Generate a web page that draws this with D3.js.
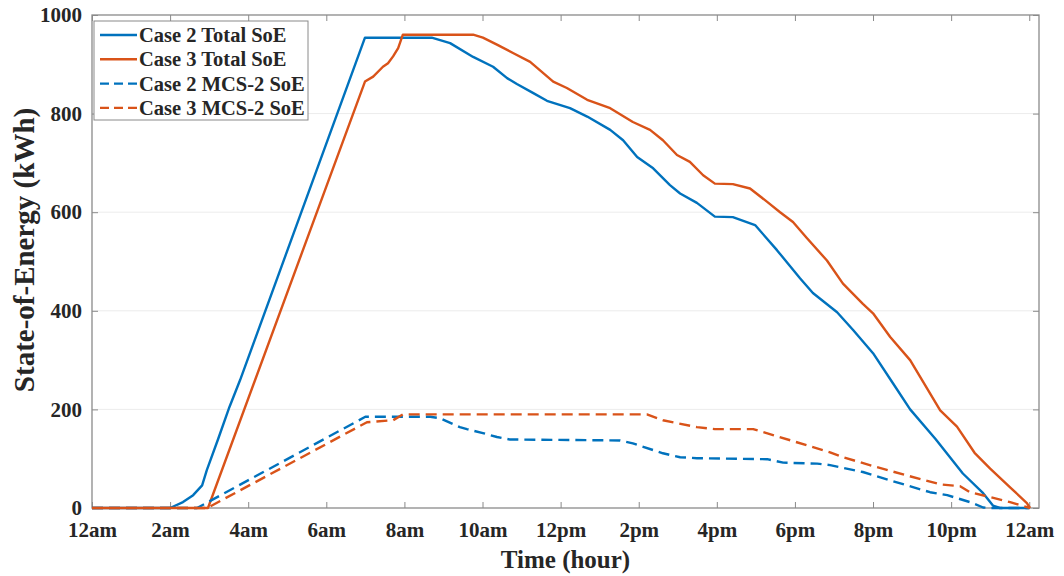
<!DOCTYPE html>
<html>
<head>
<meta charset="utf-8">
<script src="https://cdn.jsdelivr.net/npm/d3@7"></script>
<style>
  body { margin: 0; background: #fff; }
  svg text { font-family: "Liberation Serif", "Times New Roman", serif; font-weight: bold; fill: #262626; }
</style>
</head>
<body>
<div id="container"></div>
<script>
/* DATA (hours since midnight, kWh) */
const tickHours = [0, 2, 4, 6, 8, 10, 12, 14, 16, 18, 20, 22, 24];
const tickLabels = ["12am", "2am", "4am", "6am", "8am", "10am", "12pm", "2pm", "4pm", "6pm", "8pm", "10pm", "12am"];
const yTicks = [0, 200, 400, 600, 800, 1000];

const case2TotalHours = [0, 2.0, 2.33, 2.59, 2.82, 2.94, 3.23, 3.52, 3.79, 6.99, 8.7, 9.17, 9.76, 10.27, 10.63, 10.88, 11.29, 11.65, 12.24, 12.68, 13.27, 13.6, 13.96, 14.37, 14.8, 15.06, 15.49, 15.95, 16.41, 16.98, 17.54, 18.13, 18.46, 19.08, 19.49, 20.0, 20.51, 20.95, 21.6, 22.3, 22.82, 23.07, 23.25, 24.0];
const case2TotalSoE = [0, 0, 12, 26, 46, 77, 140, 205, 259, 954, 954, 943, 915, 895, 872, 860, 842, 826, 811, 794, 767, 746, 712, 689, 655, 638, 619, 591, 590, 574, 523, 466, 436, 397, 361, 314, 253, 200, 140, 70, 30, 5, 0, 0];

const case3TotalHours = [0, 2.97, 6.99, 7.2, 7.45, 7.58, 7.71, 7.84, 7.96, 9.76, 10.01, 10.37, 10.78, 11.22, 11.81, 12.16, 12.68, 13.27, 13.85, 14.29, 14.62, 14.98, 15.31, 15.65, 15.95, 16.41, 16.85, 17.29, 17.62, 17.95, 18.31, 18.82, 19.23, 19.74, 20.0, 20.44, 20.95, 21.72, 22.15, 22.6, 23.0, 23.51, 23.94, 24.02];
const case3TotalSoE = [0, 0, 865, 875, 895, 902, 916, 933, 960, 960, 954, 940, 923, 905, 865, 852, 828, 811, 783, 767, 746, 716, 702, 675, 658, 657, 648, 621, 600, 580, 547, 502, 455, 414, 395, 347, 300, 198, 165, 112, 80, 42, 10, 0];

const case2McsHours = [0, 2.69, 2.97, 7.0, 8.66, 8.91, 9.42, 9.6, 10.01, 10.37, 10.7, 13.52, 13.85, 14.62, 15.06, 15.49, 17.29, 17.7, 18.57, 18.9, 19.74, 20.61, 21.46, 21.9, 22.48, 22.82, 23.0, 24.0];
const case2McsSoE = [0, 0, 12, 185, 185, 182, 164, 160, 152, 144, 139, 137, 131, 111, 103, 101, 99, 92, 90, 87, 73, 52, 32, 26, 12, 1, 0, 0];

const case3McsHours = [0, 2.95, 7.04, 7.71, 7.96, 14.21, 14.62, 15.49, 15.95, 16.93, 17.44, 18.31, 18.9, 19.23, 20.0, 20.87, 21.72, 22.23, 22.48, 23.0, 23.51, 24.02];
const case3McsSoE = [0, 0, 174, 178, 190, 190, 178, 164, 160, 160, 148, 127, 113, 103, 85, 66, 48, 44, 32, 22, 12, 0];

const seriesNames = ["Case 2 Total SoE", "Case 3 Total SoE", "Case 2 MCS-2 SoE", "Case 3 MCS-2 SoE"];
const seriesColors = ["#0072BD", "#D95319", "#0072BD", "#D95319"];
const seriesDashed = [false, false, true, true];

/* CONSTANTS */
const width = 1064, height = 576;
const margin = { top: 15, right: 25, bottom: 68, left: 92 };

const svg = d3.select("#container").append("svg")
  .attr("width", width).attr("height", height);

const xScale = d3.scaleLinear().domain([0, 24.25]).range([margin.left, width - margin.right]);
const yScale = d3.scaleLinear().domain([0, 1000]).range([height - margin.bottom, margin.top]);

// grid
svg.append("g").selectAll("line")
  .data(yTicks.filter(d => d > 0 && d < 1000))
  .join("line")
  .attr("x1", xScale.range()[0]).attr("x2", xScale.range()[1])
  .attr("y1", d => yScale(d)).attr("y2", d => yScale(d))
  .attr("stroke", "#ececec").attr("stroke-width", 1);

// axes (ticks pointing inward)
const xAxis = d3.axisBottom(xScale).tickValues(tickHours)
  .tickFormat((d, i) => tickLabels[i]).tickSize(-6).tickPadding(14);
const yAxis = d3.axisLeft(yScale).tickValues(yTicks)
  .tickFormat(d3.format("d")).tickSize(-6).tickPadding(10);

const gx = svg.append("g").attr("transform", `translate(0,${yScale(0)})`).call(xAxis);
const gy = svg.append("g").attr("transform", `translate(${xScale.range()[0]},0)`).call(yAxis);
svg.append("g").attr("transform", `translate(0,${yScale(1000)})`)
  .call(d3.axisTop(xScale).tickValues(tickHours).tickSize(-6).tickFormat(""));
svg.append("g").attr("transform", `translate(${xScale.range()[1]},0)`)
  .call(d3.axisRight(yScale).tickValues(yTicks).tickSize(-6).tickFormat(""));

svg.selectAll(".domain").remove();
svg.selectAll(".tick line").attr("stroke", "#8a8a8a");
gx.selectAll("text").attr("font-size", 21).attr("fill", "#262626");
gy.selectAll("text").attr("font-size", 21).attr("fill", "#262626");

// frame
svg.append("rect")
  .attr("x", xScale.range()[0]).attr("y", yScale(1000))
  .attr("width", xScale.range()[1] - xScale.range()[0])
  .attr("height", yScale(0) - yScale(1000))
  .attr("fill", "none").attr("stroke", "#8a8a8a").attr("stroke-width", 1.3);

// lines
const allHours = [case2TotalHours, case3TotalHours, case2McsHours, case3McsHours];
const allValues = [case2TotalSoE, case3TotalSoE, case2McsSoE, case3McsSoE];
const line = d3.line().x(d => xScale(d[0])).y(d => yScale(d[1]));

allHours.forEach((hours, i) => {
  const pts = hours.map((h, j) => [h, allValues[i][j]]);
  svg.append("path")
    .datum(pts)
    .attr("d", line)
    .attr("fill", "none")
    .attr("stroke", seriesColors[i])
    .attr("stroke-width", 2.4)
    .attr("stroke-linejoin", "round")
    .attr("stroke-dasharray", seriesDashed[i] ? "11,6" : null);
});

// axis titles
svg.append("text")
  .attr("x", (xScale.range()[0] + xScale.range()[1]) / 2)
  .attr("y", 568)
  .attr("text-anchor", "middle")
  .attr("font-size", 25)
  .text("Time (hour)");

svg.append("text")
  .attr("transform", `translate(34,250) rotate(-90)`)
  .attr("text-anchor", "middle")
  .attr("font-size", 29)
  .text("State-of-Energy (kWh)");

// legend
const legend = svg.append("g");
legend.append("rect")
  .attr("x", 94).attr("y", 21).attr("width", 214).attr("height", 99)
  .attr("fill", "#fff").attr("stroke", "#8a8a8a").attr("stroke-width", 1);

seriesNames.forEach((name, i) => {
  const cy = 35 + i * 24.3;
  legend.append("line")
    .attr("x1", 100).attr("x2", 137)
    .attr("y1", cy).attr("y2", cy)
    .attr("stroke", seriesColors[i])
    .attr("stroke-width", 2.4)
    .attr("stroke-dasharray", seriesDashed[i] ? "9,5" : null);
  legend.append("text")
    .attr("x", 139).attr("y", cy + 7)
    .attr("font-size", 20.5)
    .text(name);
});
</script>
</body>
</html>
